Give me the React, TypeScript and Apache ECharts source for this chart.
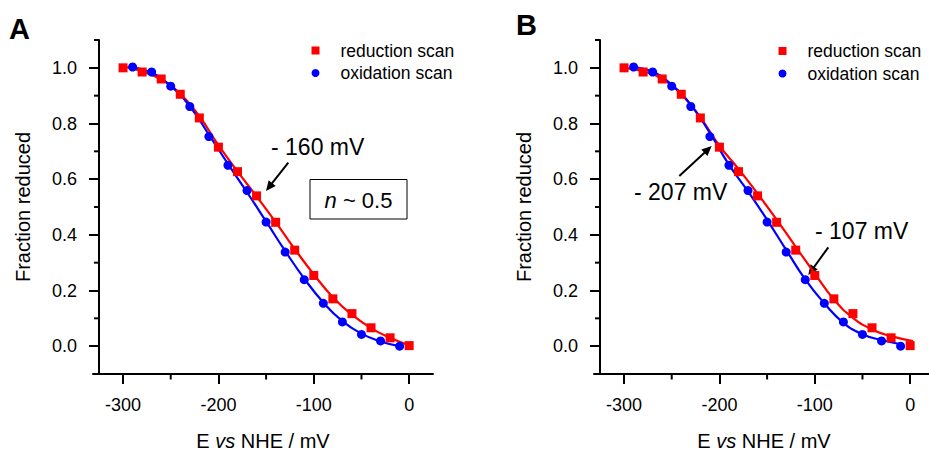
import React, { useEffect, useRef } from "react";
import * as echarts from "echarts";

// ---- data ----
const redX = [-300, -280, -260, -240, -220, -200, -180, -160, -140, -120, -100, -80, -60, -40, -20, 0];
const redY = [1.0, 0.985, 0.96, 0.905, 0.82, 0.715, 0.627, 0.54, 0.445, 0.345, 0.254, 0.17, 0.117, 0.066, 0.03, 0.002];
const blueX = [-290, -270, -250, -230, -210, -190, -170, -150, -130, -110, -90, -70, -50, -30, -10];
const blueY = [1.003, 0.985, 0.934, 0.861, 0.753, 0.65, 0.559, 0.446, 0.338, 0.239, 0.154, 0.087, 0.042, 0.019, 0.0];

// fitted curves, panel A
const fitARedX = [-297, -280, -260, -240, -220, -200, -180, -160, -140, -120, -100, -80, -60, -40, -20, 0];
const fitARedY = [1.003, 0.987, 0.958, 0.907, 0.826, 0.722, 0.628, 0.538, 0.446, 0.349, 0.258, 0.176, 0.113, 0.065, 0.03, 0.003];
const fitABlueX = [-292, -270, -250, -230, -210, -190, -170, -150, -130, -110, -90, -70, -50, -30, -10];
const fitABlueY = [1.003, 0.982, 0.935, 0.862, 0.76, 0.655, 0.553, 0.448, 0.342, 0.243, 0.157, 0.09, 0.045, 0.017, 0.0];

// fitted curves, panel B
const fitBRedX = [-300, -280, -260, -240, -220, -200, -180, -160, -140, -120, -100, -80, -60, -40, -20, 3];
const fitBRedY = [1.0, 0.988, 0.96, 0.905, 0.822, 0.72, 0.637, 0.548, 0.455, 0.357, 0.261, 0.168, 0.102, 0.06, 0.036, 0.018];
const fitBBlueX = [-292, -270, -250, -230, -210, -190, -170, -150, -130, -110, -90, -70, -50, -30, -10];
const fitBBlueY = [1.003, 0.986, 0.939, 0.867, 0.766, 0.652, 0.556, 0.454, 0.346, 0.24, 0.154, 0.084, 0.043, 0.022, 0.007];

const xMajorTicks = [-300, -200, -100, 0];
const xMinorTicks = [-250, -150, -50];
const yMajorTicks = [0, 0.2, 0.4, 0.6, 0.8, 1.0];
const yMinorTicks = [0.1, 0.3, 0.5, 0.7, 0.9, 1.1];

const X_MIN = -331.5;
const X_MAX = 25;
const Y_MIN = -0.1;
const Y_MAX = 1.1;
const Y_AXIS_OFFSET = 6;

const seriesNames = ["reduction scan", "oxidation scan"];
const RED = "#ff0000";
const BLUE = "#0000ff";
const FONT = "'Liberation Sans', Arial, Helvetica, sans-serif";

const zip = (xs: number[], ys: number[]) => xs.map((x, i) => [x, ys[i]]);

function arrow(x1: number, y1: number, x2: number, y2: number) {
  const dx = x2 - x1, dy = y2 - y1;
  const L = Math.hypot(dx, dy);
  const ux = dx / L, uy = dy / L;
  const hl = 10, hw = 4.5;
  const bx = x2 - hl * ux, by = y2 - hl * uy;
  const px = -uy, py = ux;
  return [
    { type: "line", shape: { x1, y1, x2: bx + ux * 2, y2: by + uy * 2 }, style: { stroke: "#000", lineWidth: 2 } },
    {
      type: "polygon",
      shape: { points: [[x2, y2], [bx + hw * px, by + hw * py], [bx - hw * px, by - hw * py]] },
      style: { fill: "#000" },
    },
  ];
}

function panelAxes(gridIndex: number) {
  const xAxis = {
    type: "value",
    gridIndex,
    position: "bottom",
    min: X_MIN,
    max: X_MAX,
    splitLine: { show: false },
    axisLine: { onZero: false, show: true, lineStyle: { color: "#000", width: 2 } },
    name: "{n|E }{i|vs}{n| NHE / mV}",
    nameLocation: "middle",
    nameGap: 57,
    nameTextStyle: {
      rich: {
        n: { fontFamily: FONT, fontSize: 20, color: "#000" },
        i: { fontFamily: FONT, fontSize: 20, color: "#000", fontStyle: "italic" },
      },
    },
    axisTick: { show: true, inside: false, length: 10, customValues: xMajorTicks, lineStyle: { color: "#000", width: 2 } },
    axisLabel: { customValues: xMajorTicks, margin: 22, color: "#000", fontSize: 18, fontFamily: FONT, formatter: (v: number) => String(Math.round(v)) },
  };
  const yAxis = {
    type: "value",
    gridIndex,
    position: "left",
    min: Y_MIN,
    max: Y_MAX,
    offset: -Y_AXIS_OFFSET,
    splitLine: { show: false },
    axisLine: { onZero: false, show: true, lineStyle: { color: "#000", width: 2 } },
    name: "Fraction reduced",
    nameLocation: "middle",
    nameGap: 66,
    nameTextStyle: { fontFamily: FONT, fontSize: 20, color: "#000" },
    axisTick: { show: true, inside: false, length: 10, customValues: yMajorTicks, lineStyle: { color: "#000", width: 2 } },
    axisLabel: { customValues: yMajorTicks, margin: 22, color: "#000", fontSize: 18, fontFamily: FONT, formatter: (v: number) => v.toFixed(1) },
  };
  return { xAxis, yAxis };
}

function panelSeries(axisIndex: number, fr: number[][], fb: number[][]) {
  const common = { xAxisIndex: axisIndex, yAxisIndex: axisIndex };
  return [
    {
      ...common,
      type: "line",
      name: "reduction fit",
      data: fr,
      smooth: true,
      showSymbol: false,
      lineStyle: { color: RED, width: 2.2 },
      itemStyle: { color: RED },
      z: 2,
    },
    {
      ...common,
      type: "line",
      name: "oxidation fit",
      data: fb,
      smooth: true,
      showSymbol: false,
      lineStyle: { color: BLUE, width: 2.2 },
      itemStyle: { color: BLUE },
      z: 2,
    },
    {
      ...common,
      type: "scatter",
      name: seriesNames[0],
      data: zip(redX, redY),
      symbol: "rect",
      symbolSize: 9,
      itemStyle: { color: RED, opacity: 1 },
      z: 3,
    },
    {
      ...common,
      type: "scatter",
      name: seriesNames[1],
      data: zip(blueX, blueY),
      symbol: "circle",
      symbolSize: 9,
      itemStyle: { color: BLUE, opacity: 1 },
      z: 4,
    },
  ];
}

export default function App() {
  const ref = useRef<HTMLDivElement>(null);
  useEffect(() => {
    if (!ref.current) return;
    const chart = echarts.init(ref.current, null, { renderer: "svg" });
    const a = panelAxes(0);
    const b = panelAxes(1);
    const legendBase = {
      orient: "vertical",
      itemWidth: 40,
      itemHeight: 8,
      itemGap: 4.5,
      symbolKeepAspect: true,
      selectedMode: false,
      textStyle: { fontFamily: FONT, fontSize: 17.5, color: "#000", lineHeight: 17 },
      data: [
        { name: seriesNames[0], icon: "path://M0,0L10,0L10,10L0,10Z" },
        { name: seriesNames[1], icon: "circle" },
      ],
      padding: 0,
    };
    const textEl = (text: string, x: number, y: number, size: number) => ({
      type: "text",
      x,
      y,
      style: { text, font: `${size}px ${FONT}`, fill: "#000", textAlign: "left", textVerticalAlign: "middle" },
    });
    const option = {
      animation: false,
      backgroundColor: "#ffffff",
      grid: [
        { left: 93, top: 40, width: 340, height: 334, outerBoundsMode: "none", containLabel: false },
        { left: 594, top: 40, width: 340, height: 334, outerBoundsMode: "none", containLabel: false },
      ],
      xAxis: [a.xAxis, b.xAxis],
      yAxis: [a.yAxis, b.yAxis],
      legend: [
        { ...legendBase, left: 311.5, top: 41.5 },
        { ...legendBase, left: 778.5, top: 42 },
      ],
      series: [
        ...panelSeries(0, zip(fitARedX, fitARedY), zip(fitABlueX, fitABlueY)),
        ...panelSeries(1, zip(fitBRedX, fitBRedY), zip(fitBBlueX, fitBBlueY)),
      ],
    };
    chart.setOption(option as any);

    // minor ticks placed through the axes' own scales
    const minorTicks: any[] = [];
    [0, 1].forEach((idx) => {
      const finder = { xAxisIndex: idx, yAxisIndex: idx };
      const corner = chart.convertToPixel(finder as any, [X_MIN, Y_MIN]) as number[];
      const axisX = corner[0] + Y_AXIS_OFFSET;
      const axisY = corner[1];
      yMinorTicks.forEach((v) => {
        const p = chart.convertToPixel(finder as any, [X_MIN, v]) as number[];
        minorTicks.push({
          type: "line",
          shape: { x1: axisX - 5, y1: p[1], x2: axisX, y2: p[1] },
          style: { stroke: "#000", lineWidth: 2 },
        });
      });
      xMinorTicks.forEach((v) => {
        const p = chart.convertToPixel(finder as any, [v, Y_MIN]) as number[];
        minorTicks.push({
          type: "line",
          shape: { x1: p[0], y1: axisY, x2: p[0], y2: axisY + 5.5 },
          style: { stroke: "#000", lineWidth: 2 },
        });
      });
    });

    chart.setOption({
      graphic: [
        {
          type: "text",
          x: 9,
          y: 29,
          style: { text: "A", font: `bold 29px ${FONT}`, fill: "#000", textAlign: "left", textVerticalAlign: "middle" },
        },
        {
          type: "text",
          x: 516,
          y: 25,
          style: { text: "B", font: `bold 29px ${FONT}`, fill: "#000", textAlign: "left", textVerticalAlign: "middle" },
        },
        textEl("- 160 mV", 271, 147, 23),
        ...arrow(288.3, 162.7, 266, 191),
        {
          type: "rect",
          shape: { x: 310, y: 179.5, width: 97, height: 39.5 },
          style: { fill: "#fff", stroke: "#000", lineWidth: 1 },
        },
        {
          type: "text",
          x: 358.5,
          y: 200,
          style: {
            text: "{i|n}{t| ~ 0.5}",
            textAlign: "center",
            textVerticalAlign: "middle",
            rich: {
              i: { fontFamily: FONT, fontSize: 22, fontStyle: "italic", fill: "#000" },
              t: { fontFamily: FONT, fontSize: 22, fill: "#000" },
            },
          },
        },
        textEl("- 207 mV", 634, 192, 23),
        ...arrow(679.3, 176, 711.7, 146),
        textEl("- 107 mV", 815, 231, 23),
        ...arrow(828.3, 247.3, 808.3, 275),
        ...minorTicks,
      ],
    } as any);
    return () => chart.dispose();
  }, []);
  return (
    <div
      ref={ref}
      style={{ position: "fixed", left: 0, top: 0, width: 929, height: 452, background: "#fff" }}
    />
  );
}
